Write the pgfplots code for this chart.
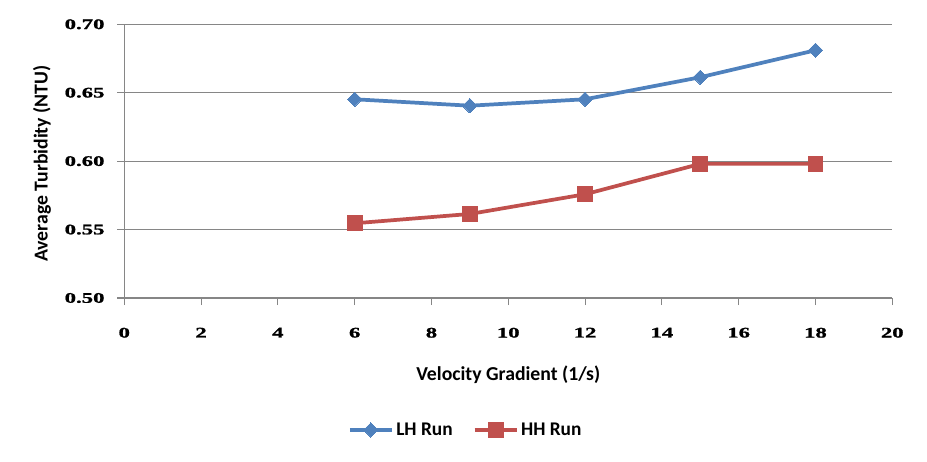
\documentclass[border=0pt]{standalone}
\usepackage{fontspec}
\setmainfont{Carlito}
\newfontface\tickfont[FakeStretch=1.55, FakeBold=1.2]{Liberation Serif Bold}
\usepackage{pgfplots}
\pgfplotsset{compat=1.18}
\definecolor{lhblue}{HTML}{4F81BD}
\definecolor{hhred}{HTML}{C0504D}
\definecolor{gridgray}{HTML}{868686}
\begin{document}
\begin{tikzpicture}
\begin{axis}[
  name=ax,
  at={(0,0)}, anchor=south west,
  scale only axis,
  width=576pt, height=205.3pt,
  xmin=0, xmax=20, ymin=0.5, ymax=0.7,
  xtick={0,2,...,20},
  ytick={0.50,0.55,0.60,0.65,0.70},
  axis x line=bottom, axis y line=left,
  axis line style={-, draw=gridgray, line width=0.8pt},
  ymajorgrids, grid style={draw=gridgray, line width=0.8pt},
  tick align=outside, major tick length=5.3pt,
  tick style={draw=gridgray, line width=0.8pt},
  /pgf/number format/assume math mode=true,
  yticklabel style={/pgf/number format/fixed, /pgf/number format/fixed zerofill, /pgf/number format/precision=2, font=\tickfont\fontsize{11pt}{12pt}\selectfont, xshift=-6pt},
  xticklabel style={font=\tickfont\fontsize{11pt}{12pt}\selectfont, yshift=-13.5pt},
  scaled y ticks=false,
  xlabel={Velocity Gradient (1/s)},
  ylabel={Average Turbidity (NTU)},
  label style={font=\bfseries\fontsize{14.8pt}{17pt}\selectfont},
  xlabel style={at={([yshift=-57.75pt]axis description cs:0.5,0)}, anchor=center},
  ylabel style={at={([xshift=-61.7pt]axis description cs:0,0.491)}, anchor=center},
  clip=false,
  legend columns=2,
  legend style={at={(0.445,-0.482)}, anchor=center, draw=none, fill=none,
    font=\bfseries\fontsize{14.5pt}{17pt}\selectfont,
    /tikz/every even column/.append style={column sep=13pt}},
  legend image code/.code={\draw[#1, mark repeat=2, mark phase=2] plot coordinates {(0pt,0pt) (15.75pt,0pt) (31.5pt,0pt)};},
]
\addplot[color=lhblue, line width=2.8pt, mark=square*, mark size=3.8pt, mark options={rotate=45, solid, line width=0pt, fill=lhblue}]
  coordinates {(6,0.6452) (9,0.6405) (12,0.6452) (15,0.6613) (18,0.6810)};
\addlegendentry{LH Run}
\addplot[color=hhred, line width=2.8pt, mark=square*, mark size=5.6pt, mark options={solid, line width=0pt, fill=hhred}]
  coordinates {(6,0.5546) (9,0.5614) (12,0.5758) (15,0.5980) (18,0.5980)};
\addlegendentry{HH Run}
\end{axis}
\pgfresetboundingbox
\path[use as bounding box] (-93.2pt,-122.25pt) rectangle (602.05pt,223.5pt);
\end{tikzpicture}
\end{document}
